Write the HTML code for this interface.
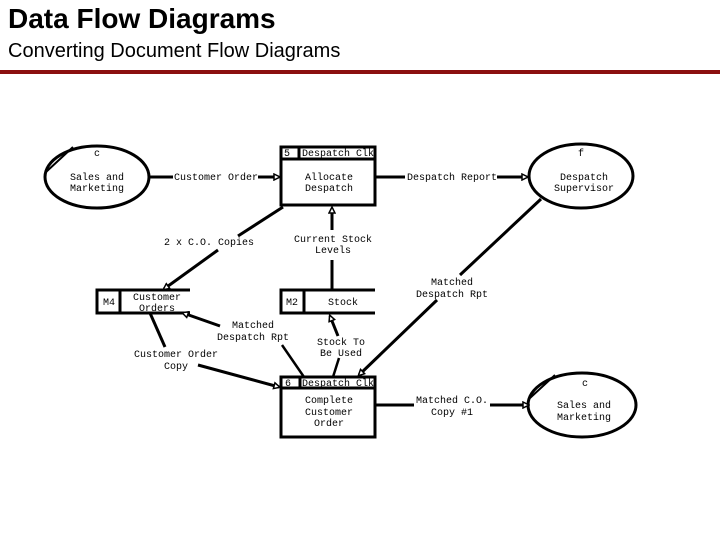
<!DOCTYPE html>
<html><head><meta charset="utf-8"><style>
body{margin:0;width:720px;height:540px;background:#fff;overflow:hidden;position:relative;font-family:"Liberation Sans",sans-serif}
.t{position:absolute;left:8px;top:3px;font-size:28px;font-weight:bold;color:#000}
.s{position:absolute;left:8px;top:40px;font-size:20px;color:#000}
.r{position:absolute;left:0;top:70px;width:720px;height:4px;background:#8b1010}
svg{position:absolute;left:0;top:0}
text{font-family:"Liberation Mono",monospace;font-size:10px;fill:#000}
</style></head><body>
<div class="t">Data Flow Diagrams</div>
<div class="s">Converting Document Flow Diagrams</div>
<div class="r"></div>
<svg width="720" height="540" viewBox="0 0 720 540">
<defs><marker id="a" markerWidth="8" markerHeight="8" refX="6" refY="4" orient="auto" markerUnits="userSpaceOnUse"><path d="M1,1 L7,4 L1,7 Z" fill="#fff" stroke="#000" stroke-width="1.5"/></marker></defs>
<g stroke="#000" stroke-width="3" fill="none">
<ellipse cx="97" cy="177" rx="52" ry="31"/>
<line x1="46" y1="172" x2="73" y2="147" stroke-width="2"/>
<ellipse cx="581" cy="176" rx="52" ry="32"/>
<ellipse cx="582" cy="405" rx="54" ry="32"/>
<line x1="530" y1="398" x2="555" y2="375" stroke-width="2"/>
<rect x="281" y="147" width="94" height="58"/>
<line x1="281" y1="159" x2="375" y2="159"/>
<line x1="299" y1="147" x2="299" y2="159"/>
<rect x="281" y="377" width="94" height="60"/>
<line x1="281" y1="388" x2="375" y2="388"/>
<line x1="300" y1="377" x2="300" y2="388"/>
<path d="M190,290 H97 V313 H190"/>
<line x1="120" y1="290" x2="120" y2="313"/>
<path d="M375,290 H281 V313 H375"/>
<line x1="304" y1="290" x2="304" y2="313"/>
<line x1="149" y1="177" x2="173" y2="177"/>
<line x1="258" y1="177" x2="279" y2="177" marker-end="url(#a)"/>
<line x1="375" y1="177" x2="405" y2="177"/>
<line x1="497" y1="177" x2="527" y2="177" marker-end="url(#a)"/>
<line x1="283" y1="207" x2="238" y2="236"/>
<line x1="218" y1="250" x2="164" y2="289" marker-end="url(#a)"/>
<line x1="332" y1="230" x2="332" y2="208" marker-end="url(#a)"/>
<line x1="332" y1="290" x2="332" y2="260"/>
<line x1="541" y1="199" x2="460" y2="275"/>
<line x1="437" y1="300" x2="359" y2="375" marker-end="url(#a)"/>
<line x1="150" y1="313" x2="165" y2="347"/>
<line x1="198" y1="365" x2="279" y2="387" marker-end="url(#a)"/>
<line x1="220" y1="326" x2="183" y2="313" marker-end="url(#a)"/>
<line x1="282" y1="345" x2="304" y2="377" stroke-width="2.5"/>
<line x1="333" y1="377" x2="339" y2="358" stroke-width="2.5"/>
<line x1="338" y1="336" x2="330" y2="316" marker-end="url(#a)"/>
<line x1="375" y1="405" x2="414" y2="405"/>
<line x1="490" y1="405" x2="528" y2="405" marker-end="url(#a)"/>
</g>
<g>
<text x="97" y="156" text-anchor="middle">c</text>
<text x="97" y="180" text-anchor="middle">Sales and</text>
<text x="97" y="191" text-anchor="middle">Marketing</text>
<text x="581" y="156" text-anchor="middle">f</text>
<text x="584" y="180" text-anchor="middle">Despatch</text>
<text x="584" y="191" text-anchor="middle">Supervisor</text>
<text x="585" y="386" text-anchor="middle">c</text>
<text x="584" y="408" text-anchor="middle">Sales and</text>
<text x="584" y="420" text-anchor="middle">Marketing</text>
<text x="284" y="156">5</text>
<text x="302" y="156">Despatch Clk</text>
<text x="329" y="180" text-anchor="middle">Allocate</text>
<text x="329" y="191" text-anchor="middle">Despatch</text>
<text x="285" y="386">6</text>
<text x="302" y="386">Despatch Clk</text>
<text x="329" y="403" text-anchor="middle">Complete</text>
<text x="329" y="415" text-anchor="middle">Customer</text>
<text x="329" y="426" text-anchor="middle">Order</text>
<text x="103" y="305">M4</text>
<text x="157" y="300" text-anchor="middle">Customer</text>
<text x="157" y="311" text-anchor="middle">Orders</text>
<text x="286" y="305">M2</text>
<text x="343" y="305" text-anchor="middle">Stock</text>
<text x="216" y="180" text-anchor="middle">Customer Order</text>
<text x="452" y="180" text-anchor="middle">Despatch Report</text>
<text x="209" y="245" text-anchor="middle">2 x C.O. Copies</text>
<text x="333" y="242" text-anchor="middle">Current Stock</text>
<text x="333" y="253" text-anchor="middle">Levels</text>
<text x="452" y="285" text-anchor="middle">Matched</text>
<text x="452" y="297" text-anchor="middle">Despatch Rpt</text>
<text x="253" y="328" text-anchor="middle">Matched</text>
<text x="253" y="340" text-anchor="middle">Despatch Rpt</text>
<text x="341" y="345" text-anchor="middle">Stock To</text>
<text x="341" y="356" text-anchor="middle">Be Used</text>
<text x="176" y="357" text-anchor="middle">Customer Order</text>
<text x="176" y="369" text-anchor="middle">Copy</text>
<text x="452" y="403" text-anchor="middle">Matched C.O.</text>
<text x="452" y="415" text-anchor="middle">Copy #1</text>
</g>
</svg>
</body></html>
